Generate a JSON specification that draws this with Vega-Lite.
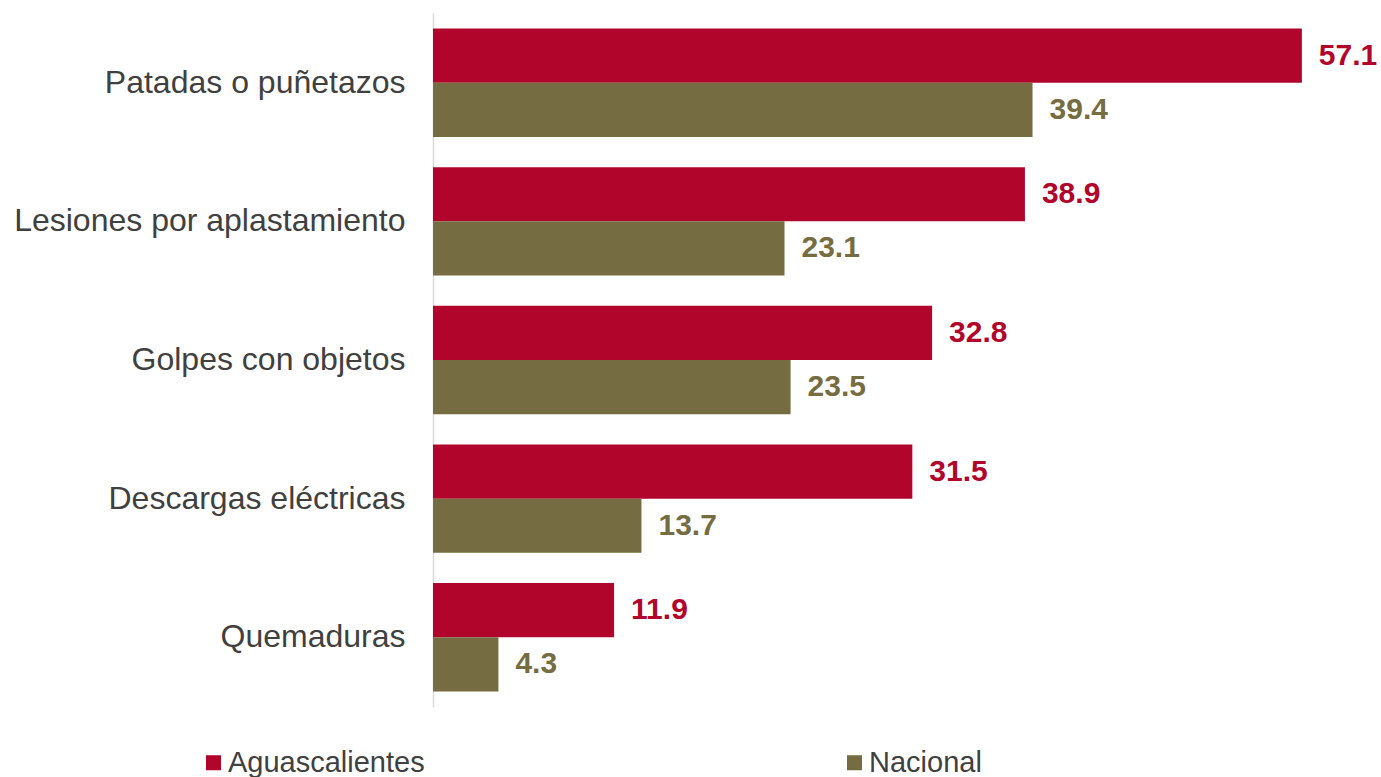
{
  "$schema": "https://vega.github.io/schema/vega-lite/v6.json",
  "autosize": {"type": "none"},
  "padding": {"left": 433, "top": 13, "right": 35, "bottom": 70},
  "width": 913,
  "height": 694,
  "background": "white",
  "data": {
    "values": [
      {"categoria": "Patadas o puñetazos", "serie": "Aguascalientes", "valor": 57.1},
      {"categoria": "Patadas o puñetazos", "serie": "Nacional", "valor": 39.4},
      {"categoria": "Lesiones por aplastamiento", "serie": "Aguascalientes", "valor": 38.9},
      {"categoria": "Lesiones por aplastamiento", "serie": "Nacional", "valor": 23.1},
      {"categoria": "Golpes con objetos", "serie": "Aguascalientes", "valor": 32.8},
      {"categoria": "Golpes con objetos", "serie": "Nacional", "valor": 23.5},
      {"categoria": "Descargas eléctricas", "serie": "Aguascalientes", "valor": 31.5},
      {"categoria": "Descargas eléctricas", "serie": "Nacional", "valor": 13.7},
      {"categoria": "Quemaduras", "serie": "Aguascalientes", "valor": 11.9},
      {"categoria": "Quemaduras", "serie": "Nacional", "valor": 4.3}
    ]
  },
  "encoding": {
    "y": {
      "field": "categoria",
      "type": "nominal",
      "sort": ["Patadas o puñetazos", "Lesiones por aplastamiento", "Golpes con objetos", "Descargas eléctricas", "Quemaduras"],
      "title": null,
      "scale": {"paddingInner": 0.218, "paddingOuter": 0.112},
      "axis": {
        "domainColor": "#D9D9D9",
        "domainWidth": 1.5,
        "ticks": false,
        "labelFont": "Liberation Sans",
        "labelFontSize": 32,
        "labelColor": "#404040",
        "labelPadding": 28,
        "labelLimit": 600,
        "grid": false
      }
    },
    "yOffset": {"field": "serie", "type": "nominal", "sort": ["Aguascalientes", "Nacional"]},
    "x": {"field": "valor", "type": "quantitative", "scale": {"domain": [0, 60]}, "axis": null}
  },
  "layer": [
    {
      "mark": {"type": "bar"},
      "encoding": {
        "color": {
          "field": "serie",
          "type": "nominal",
          "sort": ["Aguascalientes", "Nacional"],
          "scale": {"domain": ["Aguascalientes", "Nacional"], "range": ["#B1052C", "#756D41"]},
          "legend": {
            "orient": "none",
            "legendX": -234,
            "legendY": 735,
            "direction": "horizontal",
            "title": null,
            "padding": 0,
            "columnPadding": 415,
            "symbolType": "square",
            "symbolSize": 225,
            "symbolStrokeWidth": 0,
            "labelFont": "Liberation Sans",
            "labelFontSize": 29,
            "labelColor": "#404040",
            "labelOffset": 0,
            "labelLimit": 400
          }
        }
      }
    },
    {
      "mark": {"type": "text", "align": "left", "baseline": "middle", "dx": 17, "font": "Liberation Sans", "fontWeight": "bold", "fontSize": 30},
      "encoding": {
        "text": {"field": "valor", "type": "quantitative", "format": ".1f"},
        "color": {
          "field": "serie",
          "type": "nominal",
          "scale": {"domain": ["Aguascalientes", "Nacional"], "range": ["#B1052C", "#756D41"]},
          "legend": null
        }
      }
    }
  ],
  "config": {"view": {"stroke": null}}
}
